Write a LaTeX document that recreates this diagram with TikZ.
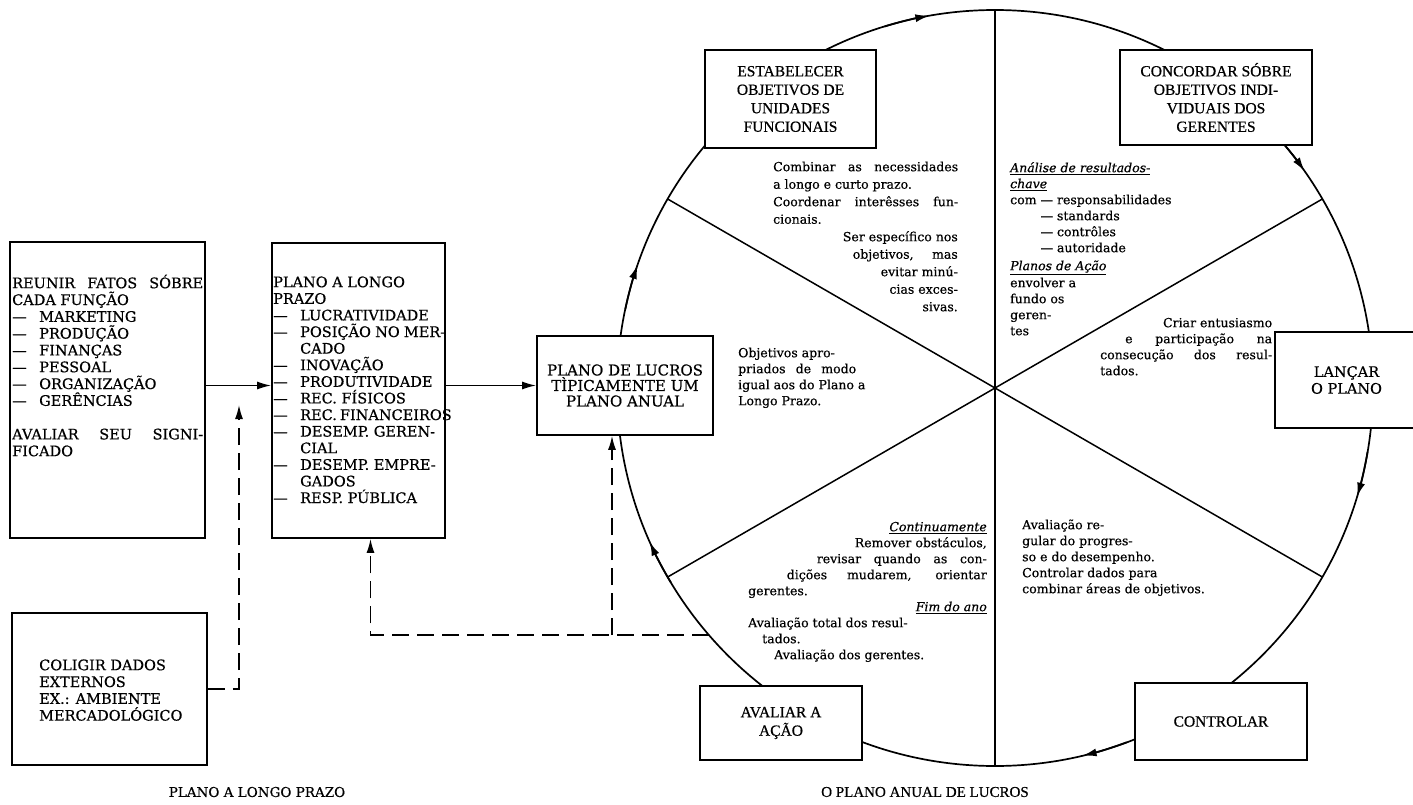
\documentclass[tikz,border=0pt]{standalone}
\usepackage{fontspec}
\setmainfont{DejaVu Serif}[FakeBold=0.5]
\newfontfamily\tmsf{Liberation Serif}[FakeBold=0.6]
\usetikzlibrary{arrows.meta}
\newcommand\myfl{\rule{0pt}{14pt}}
\newcommand\jw[2]{\makebox[#1pt][s]{#2}}
\newcommand\itm{\makebox[27pt][l]{—}}
\begin{document}
\begin{tikzpicture}[x=1pt,y=-1pt,
 box/.style={draw,line width=1.7pt,fill=white,inner sep=0pt},
 ln/.style={line width=1.5pt},
 tip/.style={-{Latex[length=14pt,width=8pt]}},
 dsh/.style={line width=1.5pt,dash pattern=on 17pt off 8pt},
 txt/.style={inner sep=0pt,anchor=north west,align=left},
 txtr/.style={inner sep=0pt,anchor=north east,align=right},
 bigf/.style={font=\fontsize{14.5}{16.8}\selectfont},
 secf/.style={font=\fontsize{12.5}{16}\selectfont},
 tmf/.style={font=\tmsf\fontsize{15.5}{18.5}\selectfont},
]
\useasboundingbox (0,0) rectangle (1413,805);
% circle and diameters
\coordinate (cc) at (995,388);
\draw[line width=1.7pt] (cc) circle[radius=378];
\foreach \a/\n in {30/a,90/b,150/c,210/d,270/e,330/f}{\path (cc) ++(\a:378) coordinate (r\n);}
\draw[ln] (ra) -- (rd);
\draw[ln] (rb) -- (re);
\draw[ln] (rc) -- (rf);
\foreach \p in {260,325,16.7,76.6,156,199}{
  \pgfmathsetmacro{\q}{\p-7}
  \draw[line width=1.7pt,tip] (cc) ++(\q:378) arc[start angle=\q,end angle=\p,radius=378];}
% boxes
\node[box,minimum width=195pt,minimum height=296pt] (reunir) at (107.5,390) {};
\node[box,minimum width=173pt,minimum height=295pt] (plano) at (358.5,390.5) {};
\node[box,minimum width=195pt,minimum height=152pt] (coligir) at (109.5,689) {};
\node[box,minimum width=176pt,minimum height=99pt,align=center,font=\fontsize{15}{15.5}\selectfont] (lucros) at (625,385.5) {PLANO DE LUCROS\\TÌPICAMENTE UM\\PLANO ANUAL};
\node[box,tmf,align=center,minimum width=171pt,minimum height=98pt] (estab) at (790.5,99) {ESTABELECER\\OBJETIVOS DE\\UNIDADES\\FUNCIONAIS};
\node[box,tmf,align=center,minimum width=192pt,minimum height=95pt] (conc) at (1216,97.5) {CONCORDAR SÓBRE\\OBJETIVOS INDI-\\VIDUAIS DOS\\GERENTES};
\node[box,bigf,align=center,minimum width=143pt,minimum height=96pt] (lanc) at (1346.5,380) {LANÇAR\\O PLANO};
\node[box,tmf,minimum width=172pt,minimum height=77pt] (ctrl) at (1221,721.5) {CONTROLAR};
\node[box,tmf,align=center,minimum width=162pt,minimum height=74pt] (aval) at (781,723) {AVALIAR A\\AÇÃO};
% box texts
\node[txt,bigf] (reunirt) at (12,274) {\myfl\jw{191}{REUNIR FATOS SÓBRE}\\ CADA FUNÇÃO\\ \itm MARKETING\\ \itm PRODUÇÃO\\ \itm FINANÇAS\\ \itm PESSOAL\\ \itm ORGANIZAÇÃO\\ \itm GERÊNCIAS\\[16.8pt] \jw{191}{AVALIAR SEU SIGNI-}\\ FICADO};
\node[txt,font=\fontsize{14.5}{16.6}\selectfont] (planot) at (273,273) {\myfl PLANO A LONGO\\ PRAZO\\ \itm LUCRATIVIDADE\\ \itm\jw{145}{POSIÇÃO NO MER-}\\ \hspace*{27pt}CADO\\ \itm INOVAÇÃO\\ \itm PRODUTIVIDADE\\ \itm REC. FÍSICOS\\ \itm\jw{146}{REC. FINANCEIROS}\\ \itm DESEMP. GEREN-\\ \hspace*{27pt}CIAL\\ \itm DESEMP. EMPRE-\\ \hspace*{27pt}GADOS\\ \itm RESP. PÚBLICA};
\node[txt,bigf] (coligt) at (39,656) {\myfl COLIGIR DADOS\\ EXTERNOS\\ EX.: AMBIENTE\\ MERCADOLÓGICO};
% sector texts
\node[txt,font=\fontsize{12.5}{17.5}\selectfont] (s1a) at (773,157) {\myfl\jw{185}{Combinar as necessidades}\\ a longo e curto prazo.\\ \jw{185}{Coordenar interêsses fun-}\\ cionais.};
\node[txtr,font=\fontsize{12.5}{17.5}\selectfont] (s1b) at (958,227) {\myfl Ser específico nos\\ \jw{105}{objetivos, mas}\\ evitar minú-\\ cias exces-\\ sivas.};
\node[txt,secf] (s2) at (738,343) {\myfl Objetivos apro-\\ \jw{118}{priados de modo}\\ igual aos do Plano a\\ Longo Prazo.};
\node[txt,secf] (s3a) at (1010,158) {\myfl\underline{\textit{Análise de resultados-}}\\ \underline{\textit{chave}}\\ com — responsabilidades\\ \phantom{com }— standards\\ \phantom{com }— contrôles\\ \phantom{com }— autoridade\\[2pt] \underline{\textit{Planos de Ação}}\\[1pt] envolver a\\ fundo os\\ geren-\\ tes};
\node[txt,secf] (s3b) at (1100,313) {\myfl\makebox[172pt][r]{Criar entusiasmo}\\ \makebox[172pt][r]{\jw{147}{e participação na}}\\ \jw{172}{consecução dos resul-}\\ tados.};
\node[txt,secf] (s4) at (1022,515) {\myfl Avaliação re-\\ gular do progres-\\ so e do desempenho.\\ Controlar dados para\\ combinar áreas de objetivos.};
\node[txtr,secf] (s5a) at (987,517) {\myfl\underline{\textit{Continuamente}}\\ Remover obstáculos,\\ \jw{170}{revisar quando as con-}\\ \jw{200}{dições mudarem, orientar}};
\node[txt,secf] (s5b) at (748,581) {\myfl gerentes.};
\node[txtr,secf] (s5c) at (987,597) {\myfl\underline{\textit{Fim do ano}}};
\node[txt,secf] (s5d) at (748,613) {\myfl Avaliação total dos resul-\\ \hspace*{14pt}tados.\\ \hspace*{26pt}Avaliação dos gerentes.};
% captions
\node[font=\fontsize{13.5}{16}\selectfont] (cap1) at (257,792) {PLANO A LONGO PRAZO};
\node[font=\tmsf\fontsize{15}{17}\selectfont] (cap2) at (925,792) {O PLANO ANUAL DE LUCROS};
% connectors
\draw[ln,tip] (reunir.east |- lucros) -- (plano.west |- lucros);
\draw[ln,tip] (plano.east |- lucros) -- (lucros.west);
\coordinate (tipL) at (239,405);
\draw[dsh,tip] (coligir.east) -| (tipL);
\path (cc) ++(139.2:378) coordinate (fb);
\coordinate (fbm) at (612,635);
\draw[dsh,tip] (fb) -| ([xshift=12pt]plano.south);
\draw[dsh,tip] (fbm) -- (fbm |- lucros.south);
\end{tikzpicture}
\end{document}
